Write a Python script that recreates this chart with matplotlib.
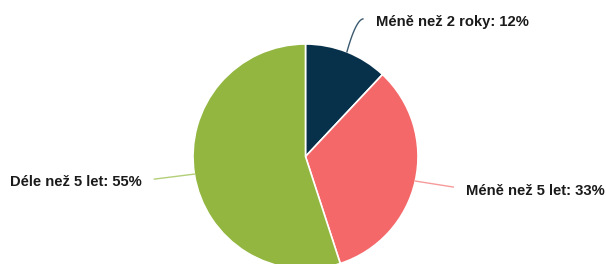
import numpy as np
import matplotlib.pyplot as plt

# data
labels = ['Méně než 2 roky', 'Méně než 5 let', 'Déle než 5 let']
values = [12, 33, 55]
colors = ['#07314a', '#f4686a', '#92b640']
line_colors = ['#3c5a70', '#f79a9b', '#b3cf7a']

W, H = 606, 264
fig = plt.figure(figsize=(W / 100, H / 100), dpi=100)
ax = fig.add_axes([0, 0, 1, 1])
ax.set_xlim(0, W)
ax.set_ylim(0, H)
ax.set_aspect('equal')
ax.axis('off')

cx, cy, r = 305.5, H - 156.5, 112.5
wedges, _ = ax.pie(values, colors=colors, center=(cx, cy), radius=r,
                   startangle=90, counterclock=False,
                   wedgeprops=dict(edgecolor='white', linewidth=1.2))
ax.set_xlim(0, W)
ax.set_ylim(0, H)

# leader lines: (end offset x, end offset y, text offset x, text offset y, ha)
leaders = [(16, 33, 29, 30, 'left'),
           (38, -6, 51, -10, 'left'),
           (-40, -5, -53, -8, 'right')]

for w, lab, v, lc, (dx, dy, tx, ty, ha) in zip(wedges, labels, values, line_colors, leaders):
    ang = np.deg2rad((w.theta1 + w.theta2) / 2)
    ex, ey = cx + r * np.cos(ang), cy + r * np.sin(ang)
    if dy > 20:
        # soft bend at the top of the line
        t = np.linspace(0, 1, 20)
        px = (1 - t) ** 2 * ex + 2 * t * (1 - t) * (ex + dx * 0.55) + t ** 2 * (ex + dx)
        py = (1 - t) ** 2 * ey + 2 * t * (1 - t) * (ey + dy * 0.95) + t ** 2 * (ey + dy)
        ax.plot(px, py, color=lc, lw=1)
    else:
        ax.plot([ex, ex + dx], [ey, ey + dy], color=lc, lw=1)
    ax.text(ex + tx, ey + ty, f'{lab}: {v}%', ha=ha, va='center',
            fontsize=10.6, fontweight='bold', color='#1a1a1a',
            family=['Liberation Sans', 'DejaVu Sans'])

fig.savefig('out.png', dpi=100)
